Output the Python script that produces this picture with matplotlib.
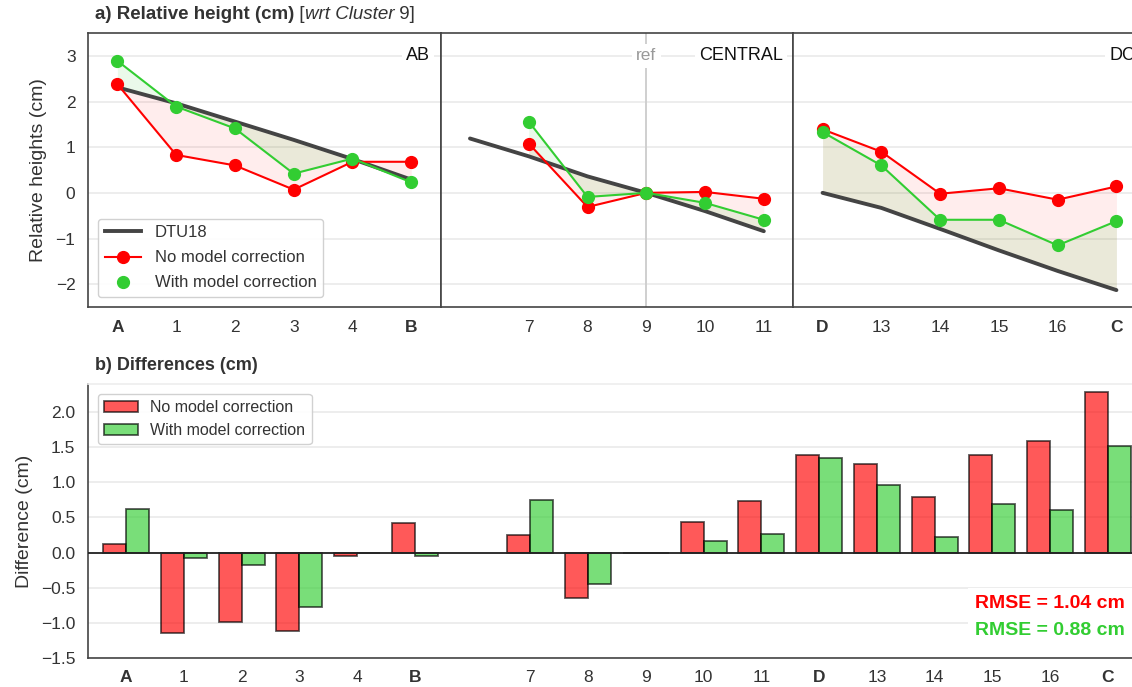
import numpy as np
import matplotlib
matplotlib.use('Agg')
import matplotlib.pyplot as plt
import matplotlib.transforms as mtransforms
from matplotlib.lines import Line2D

plt.rcParams['font.family'] = ['Liberation Sans', 'DejaVu Sans']

nan = np.nan

# tick labels of the three sections (slot before 7 has no cluster)
ab_labels = ['A', '1', '2', '3', '4', 'B']
central_labels = ['', '7', '8', '9', '10', '11']
dc_labels = ['D', '13', '14', '15', '16', 'C']
bold_labels = {'A', 'B', 'C', 'D'}

# a) relative heights (cm) wrt cluster 9
ab_dtu = [2.31, 1.96, 1.56, 1.16, 0.74, 0.29]
ab_no = [2.38, 0.83, 0.60, 0.07, 0.68, 0.68]
ab_with = [2.89, 1.89, 1.41, 0.42, 0.75, 0.23]

central_dtu = [1.19, 0.80, 0.36, 0.0, -0.40, -0.84]
central_no = [nan, 1.08, -0.31, 0.0, 0.02, -0.13]
central_with = [nan, 1.56, -0.09, 0.0, -0.22, -0.59]

dc_dtu = [0.0, -0.33, -0.79, -1.26, -1.71, -2.13]
dc_no = [1.39, 0.90, -0.02, 0.10, -0.15, 0.14]
dc_with = [1.33, 0.60, -0.59, -0.59, -1.15, -0.62]

# b) differences (cm)
diff_no = [0.12, -1.15, -0.99, -1.11, -0.05, 0.42, nan,
           0.25, -0.65, 0.0, 0.43, 0.74,
           1.39, 1.26, 0.79, 1.39, 1.59, 2.29]
diff_with = [0.62, -0.08, -0.17, -0.78, -0.01, -0.05, nan,
             0.75, -0.445, 0.0, 0.17, 0.27,
             1.35, 0.96, 0.22, 0.69, 0.60, 1.52]

rmse_no = 1.04
rmse_with = 0.88

RED = '#ff0000'
GREEN = '#32cd32'
DTU_COL = '#444444'
SPINE = '#444444'
GRID = '#e8e8e8'

W, H = 1132, 687
fig = plt.figure(figsize=(W / 100, H / 100), dpi=100)


def fx(px):
    return px / W


def fy(px):
    return 1 - px / H


def style_ticks(ax, labels):
    ax.set_xticks(np.arange(len(labels)))
    ax.set_xticklabels(labels, fontsize=12.5, color='#333333')
    for t in ax.get_xticklabels():
        if t.get_text() in bold_labels:
            t.set_fontweight('bold')
    ax.tick_params(axis='both', length=0, pad=9, labelsize=12.5,
                   labelcolor='#333333')


# ---- top panels ----
panel_w = 352.6
sections = [
    ('AB', ab_labels, ab_dtu, ab_no, ab_with),
    ('CENTRAL', central_labels, central_dtu, central_no, central_with),
    ('DC', dc_labels, dc_dtu, dc_no, dc_with),
]
top_axes = []
for i, (name, labels, dtu, no, wth) in enumerate(sections):
    left = 88 + i * panel_w
    ax = fig.add_axes([fx(left), fy(307), fx(panel_w), (307 - 33) / H])
    top_axes.append(ax)
    x = np.arange(len(labels))
    dtu = np.array(dtu)
    no = np.array(no)
    wth = np.array(wth)

    ax.grid(axis='y', color=GRID, lw=1.1, zorder=0)
    ax.set_axisbelow(True)
    ax.fill_between(x, dtu, no, color=RED, alpha=0.07, lw=0, zorder=1)
    ax.fill_between(x, dtu, wth, color=GREEN, alpha=0.1, lw=0, zorder=1)
    ax.plot(x, dtu, color=DTU_COL, lw=2.8, solid_capstyle='round', zorder=3)
    ax.plot(x, no, color=RED, lw=1.5, marker='o', ms=8.5, zorder=4)
    ax.plot(x, wth, color=GREEN, lw=1.5, marker='o', ms=8.5, zorder=5)

    ax.set_xlim(-0.5, 5.5)
    ax.set_ylim(-2.5, 3.5)
    ax.set_yticks([-2, -1, 0, 1, 2, 3])
    style_ticks(ax, labels)
    if i > 0:
        ax.tick_params(axis='y', labelleft=False)
    for s in ax.spines.values():
        s.set_color(SPINE)
        s.set_linewidth(1.2)

    trans = mtransforms.blended_transform_factory(ax.transAxes, ax.transData)
    ax.text(0.97, 3, name, transform=trans, ha='right', va='center',
            fontsize=13, color='#111111', zorder=6,
            bbox=dict(facecolor='white', edgecolor='none', pad=3))

    if name == 'CENTRAL':
        ax.axvline(3, color='#cccccc', lw=1.3, zorder=2)
        ax.text(3, 3, 'ref', ha='center', va='center', fontsize=12.5,
                color='#999999', zorder=6,
                bbox=dict(facecolor='white', edgecolor='none', pad=3))

ax0 = top_axes[0]
ax0.set_ylabel('Relative heights (cm)', fontsize=14, color='#333333', labelpad=6)
handles = [
    Line2D([], [], color=DTU_COL, lw=2.8),
    Line2D([], [], color=RED, lw=1.5, marker='o', ms=8.5),
    Line2D([], [], color=GREEN, lw=0, marker='o', ms=8.5),
]
leg = ax0.legend(handles, ['DTU18', 'No model correction', 'With model correction'],
                 loc='lower left', fontsize=12, frameon=True, fancybox=True,
                 edgecolor='#cccccc', framealpha=0.9, handlelength=2.2,
                 borderaxespad=0.6, labelspacing=0.6)
for t in leg.get_texts():
    t.set_color('#333333')

# title a) built from pieces
ta = ax0.annotate('a) Relative height (cm)', xy=(0, 1), xycoords='axes fraction',
                  xytext=(5, 7), textcoords='offset points', fontsize=13.5,
                  fontweight='bold', color='#333333', ha='left', va='bottom')
tb = ax0.annotate(' [', xy=(1, 0), xycoords=ta, fontsize=13.5, color='#333333',
                  ha='left', va='bottom')
tc = ax0.annotate('wrt Cluster', xy=(1, 0), xycoords=tb, fontsize=13.5,
                  style='italic', color='#333333', ha='left', va='bottom')
ax0.annotate(' 9]', xy=(1, 0), xycoords=tc, fontsize=13.5, color='#333333',
             ha='left', va='bottom')

# ---- bottom panel ----
axb = fig.add_axes([fx(88), fy(658), fx(1058), (658 - 384) / H])
all_labels = ab_labels + central_labels + dc_labels
xb = np.arange(len(all_labels))
bw = 0.4
axb.grid(axis='y', color=GRID, lw=1.1, zorder=0)
axb.set_axisbelow(True)
axb.bar(xb - bw / 2, diff_no, width=bw, color=RED, alpha=0.65,
        edgecolor='black', linewidth=1.3, zorder=2, label='No model correction')
axb.bar(xb + bw / 2, diff_with, width=bw, color=GREEN, alpha=0.65,
        edgecolor='black', linewidth=1.3, zorder=2, label='With model correction')
axb.axhline(0, color='#222222', lw=1.3, zorder=3)
axb.set_xlim(-0.66, 17.66)
axb.set_ylim(-1.5, 2.4)
axb.set_yticks([-1.5, -1.0, -0.5, 0.0, 0.5, 1.0, 1.5, 2.0])
style_ticks(axb, all_labels)
axb.set_ylabel('Difference (cm)', fontsize=14, color='#333333', labelpad=6)
for k, s in axb.spines.items():
    s.set_color(SPINE)
    s.set_linewidth(1.2)
axb.spines['top'].set_color('#eeeeee')
axb.spines['right'].set_visible(False)

bleg = axb.legend(loc='upper left', fontsize=11.5, frameon=True, fancybox=True,
                  edgecolor='#cccccc', framealpha=0.9, handlelength=2.1,
                  borderaxespad=0.6, labelspacing=0.5)
for t in bleg.get_texts():
    t.set_color('#333333')

axb.annotate('b) Differences (cm)', xy=(0, 1), xycoords='axes fraction',
             xytext=(5, 7), textcoords='offset points', fontsize=13,
             fontweight='bold', color='#333333', ha='left', va='bottom')

axb.text(17.3, -0.72, 'RMSE = %.2f cm' % rmse_no, ha='right', va='center',
         fontsize=14, fontweight='bold', color=RED, zorder=6,
         bbox=dict(facecolor='white', edgecolor='none', pad=5))
axb.text(17.3, -1.11, 'RMSE = %.2f cm' % rmse_with, ha='right', va='center',
         fontsize=14, fontweight='bold', color=GREEN, zorder=6,
         bbox=dict(facecolor='white', edgecolor='none', pad=5))

fig.savefig('out.png', dpi=100, facecolor='white')
